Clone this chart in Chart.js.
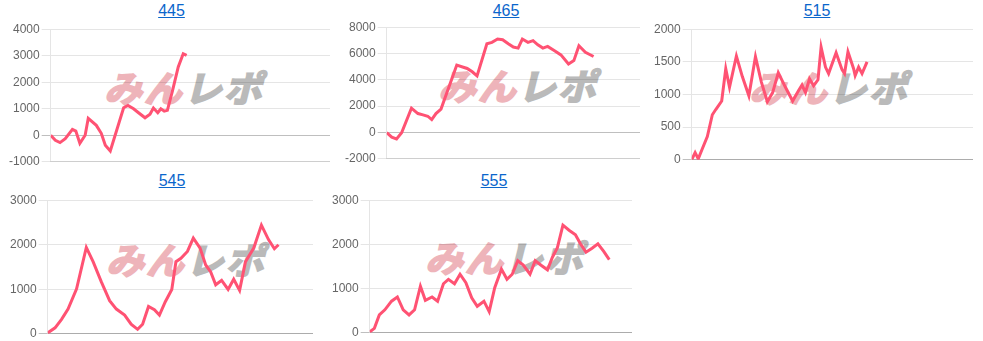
<!DOCTYPE html>
<html>
<head>
<meta charset="utf-8">
<script src="https://cdn.jsdelivr.net/npm/chart.js@4"></script>
<style>
  body { margin:0; background:#fff; width:983px; height:341px; overflow:hidden; position:relative; font-family:"Liberation Sans", Arial, sans-serif; }
  .ttl { position:absolute; font-size:16px; line-height:20px; color:#0a66cc; text-decoration:underline; transform:translateX(-50%); white-space:nowrap; }
  .wm { position:absolute; transform:translate(-50%,-50%) skewX(-14deg) scaleX(1.05); font-family:"Noto Sans CJK JP", sans-serif; font-weight:700; font-size:36px; letter-spacing:2px; white-space:nowrap; line-height:1; z-index:0; }
  .wm .a { color:rgb(238,180,186); -webkit-text-stroke:2px rgb(238,180,186); }
  .wm .b { color:rgb(186,186,186); -webkit-text-stroke:2px rgb(186,186,186); }
  canvas { position:absolute; z-index:1; }
</style>
</head>
<body>
<script>
// 台番号
const titles = ['445', '465', '515', '545', '555'];

// G数 / 差枚
const games445 = [0,150,300,470,700,810,940,1110,1210,1470,1630,1760,1920,2350,2490,2670,2830,3040,3200,3310,3450,3550,3660,3760,3920,4110,4270,4380];
const diff445  = [0,-190,-275,-125,225,160,-300,0,640,375,75,-375,-590,1040,1125,1000,850,660,790,1025,850,1000,910,940,1660,2575,3075,3010];

const games465 = [0,180,350,530,880,1110,1290,1460,1600,1750,1930,2490,2750,2860,3040,3210,3560,3740,3940,4120,4320,4500,4670,4820,5020,5200,5370,5550,5720,5950,6190,6460,6650,6830,7060,7350];
const diff465  = [0,-360,-490,-25,1850,1440,1340,1235,980,1440,1775,5120,4940,4865,4610,4300,6745,6850,7100,7050,6745,6490,6410,7100,6850,6975,6665,6410,6540,6230,5895,5200,5460,6590,6100,5770];

const games515 = [0,110,210,340,500,660,770,960,1090,1210,1430,1620,1830,2040,2230,2420,2590,2770,3000,3230,3420,3530,3640,3770,3900,4040,4140,4280,4380,4620,4810,4890,5000,5180,5230,5340,5450,5610];
const diff515  = [0,110,15,170,355,690,770,900,1395,1110,1590,1275,980,1580,1190,890,1030,1335,1110,900,1060,1145,1030,1240,1135,1225,1725,1420,1320,1640,1380,1320,1655,1395,1290,1420,1320,1500];

const games545 = [0,250,470,690,980,1310,1540,1820,2100,2330,2610,2830,3050,3220,3420,3620,3790,3990,4210,4350,4520,4740,4940,5170,5360,5530,5700,5900,6120,6310,6510,6710,6990,7250,7490,7690,7830];
const diff545  = [20,135,325,555,1010,1940,1620,1165,745,555,420,215,100,215,615,540,420,720,995,1620,1695,1850,2150,1925,1545,1390,1100,1200,995,1225,975,1620,1925,2440,2115,1910,2000];

const games555 = [0,160,330,520,750,950,1150,1350,1540,1740,1910,2140,2330,2530,2700,2910,3100,3300,3500,3690,3920,4100,4290,4520,4710,4890,5080,5270,5500,5680,5880,6100,6270,6440,6630,6840,7060,7230,7420,7630,7830,8030,8220];
const diff555  = [20,100,405,520,715,810,520,405,520,1055,735,810,715,1110,1210,1110,1325,1135,790,600,715,480,1020,1440,1210,1325,1630,1530,1325,1630,1530,1425,1710,1925,2435,2320,2220,2015,1825,1915,2015,1840,1655];

// y軸 [min, max, step]
const yRange445 = [-1000, 4000, 1000];
const yRange465 = [-2000, 8000, 2000];
const yRange515 = [0, 2000, 500];
const yRange545 = [0, 3000, 1000];
const yRange555 = [0, 3000, 1000];
const maxGames = 9000;

const series = [
    { games: games445, diff: diff445, y: yRange445 },
    { games: games465, diff: diff465, y: yRange465 },
    { games: games515, diff: diff515, y: yRange515 },
    { games: games545, diff: diff545, y: yRange545 },
    { games: games555, diff: diff555, y: yRange555 }
];

// layout (px)
const boxes = [
    { l:7,   t:20,  w:323, h:151, tx:171.5, ty:1,   wx:188, wy:86 },
    { l:343, t:18,  w:297, h:150, tx:506,   ty:1,   wx:522, wy:84 },
    { l:652, t:20,  w:321, h:149, tx:817,   ty:1,   wx:833, wy:86 },
    { l:8,   t:191, w:305, h:152, tx:172,   ty:171, wx:190, wy:258 },
    { l:330, t:191, w:302, h:151, tx:494,   ty:171, wx:509, wy:256 }
];

Chart.defaults.font.family = '"Liberation Sans", Arial, sans-serif';
Chart.defaults.font.size = 12;
Chart.defaults.color = '#666';

function mountChart(i){
    const b = boxes[i], s = series[i];

    const a = document.createElement('a');
    a.className = 'ttl'; a.href = '#'; a.textContent = titles[i];
    a.style.left = b.tx + 'px'; a.style.top = b.ty + 'px';
    document.body.appendChild(a);

    // 透かしロゴ
    const wm = document.createElement('div');
    wm.className = 'wm';
    wm.innerHTML = '<span class="a">みん</span><span class="b">レポ</span>';
    wm.style.left = b.wx + 'px'; wm.style.top = b.wy + 'px';
    document.body.appendChild(wm);

    const cv = document.createElement('canvas');
    cv.width = b.w; cv.height = b.h;
    cv.style.left = b.l + 'px'; cv.style.top = b.t + 'px';
    cv.style.width = b.w + 'px'; cv.style.height = b.h + 'px';
    document.body.appendChild(cv);

    const pts = s.games.map((g, k) => ({ x: g, y: s.diff[k] }));
    return new Chart(cv, {
        type: 'line',
        data: { datasets: [{ data: pts, borderColor: 'rgb(255,82,115)', borderWidth: 3, pointRadius: 0, tension: 0, fill: false }] },
        options: {
            responsive: false, animation: false, devicePixelRatio: 1,
            layout: { padding: 0 },
            plugins: { legend: { display: false }, tooltip: { enabled: false } },
            scales: {
                x: { type: 'linear', min: 0, max: maxGames, ticks: { display: false }, grid: { display: false, drawTicks: false }, border: { color: 'rgba(0,0,0,0.1)' } },
                y: {
                    min: s.y[0], max: s.y[1],
                    ticks: { stepSize: s.y[2], padding: 2, callback: v => v },
                    grid: { tickLength: 9, color: c => (c.tick && c.tick.value === 0) ? 'rgba(0,0,0,0.25)' : 'rgba(0,0,0,0.1)' },
                    border: { color: 'rgba(0,0,0,0.1)' }
                }
            }
        }
    });
}

for (let i = 0; i < titles.length; i++) mountChart(i);
</script>
</body>
</html>
